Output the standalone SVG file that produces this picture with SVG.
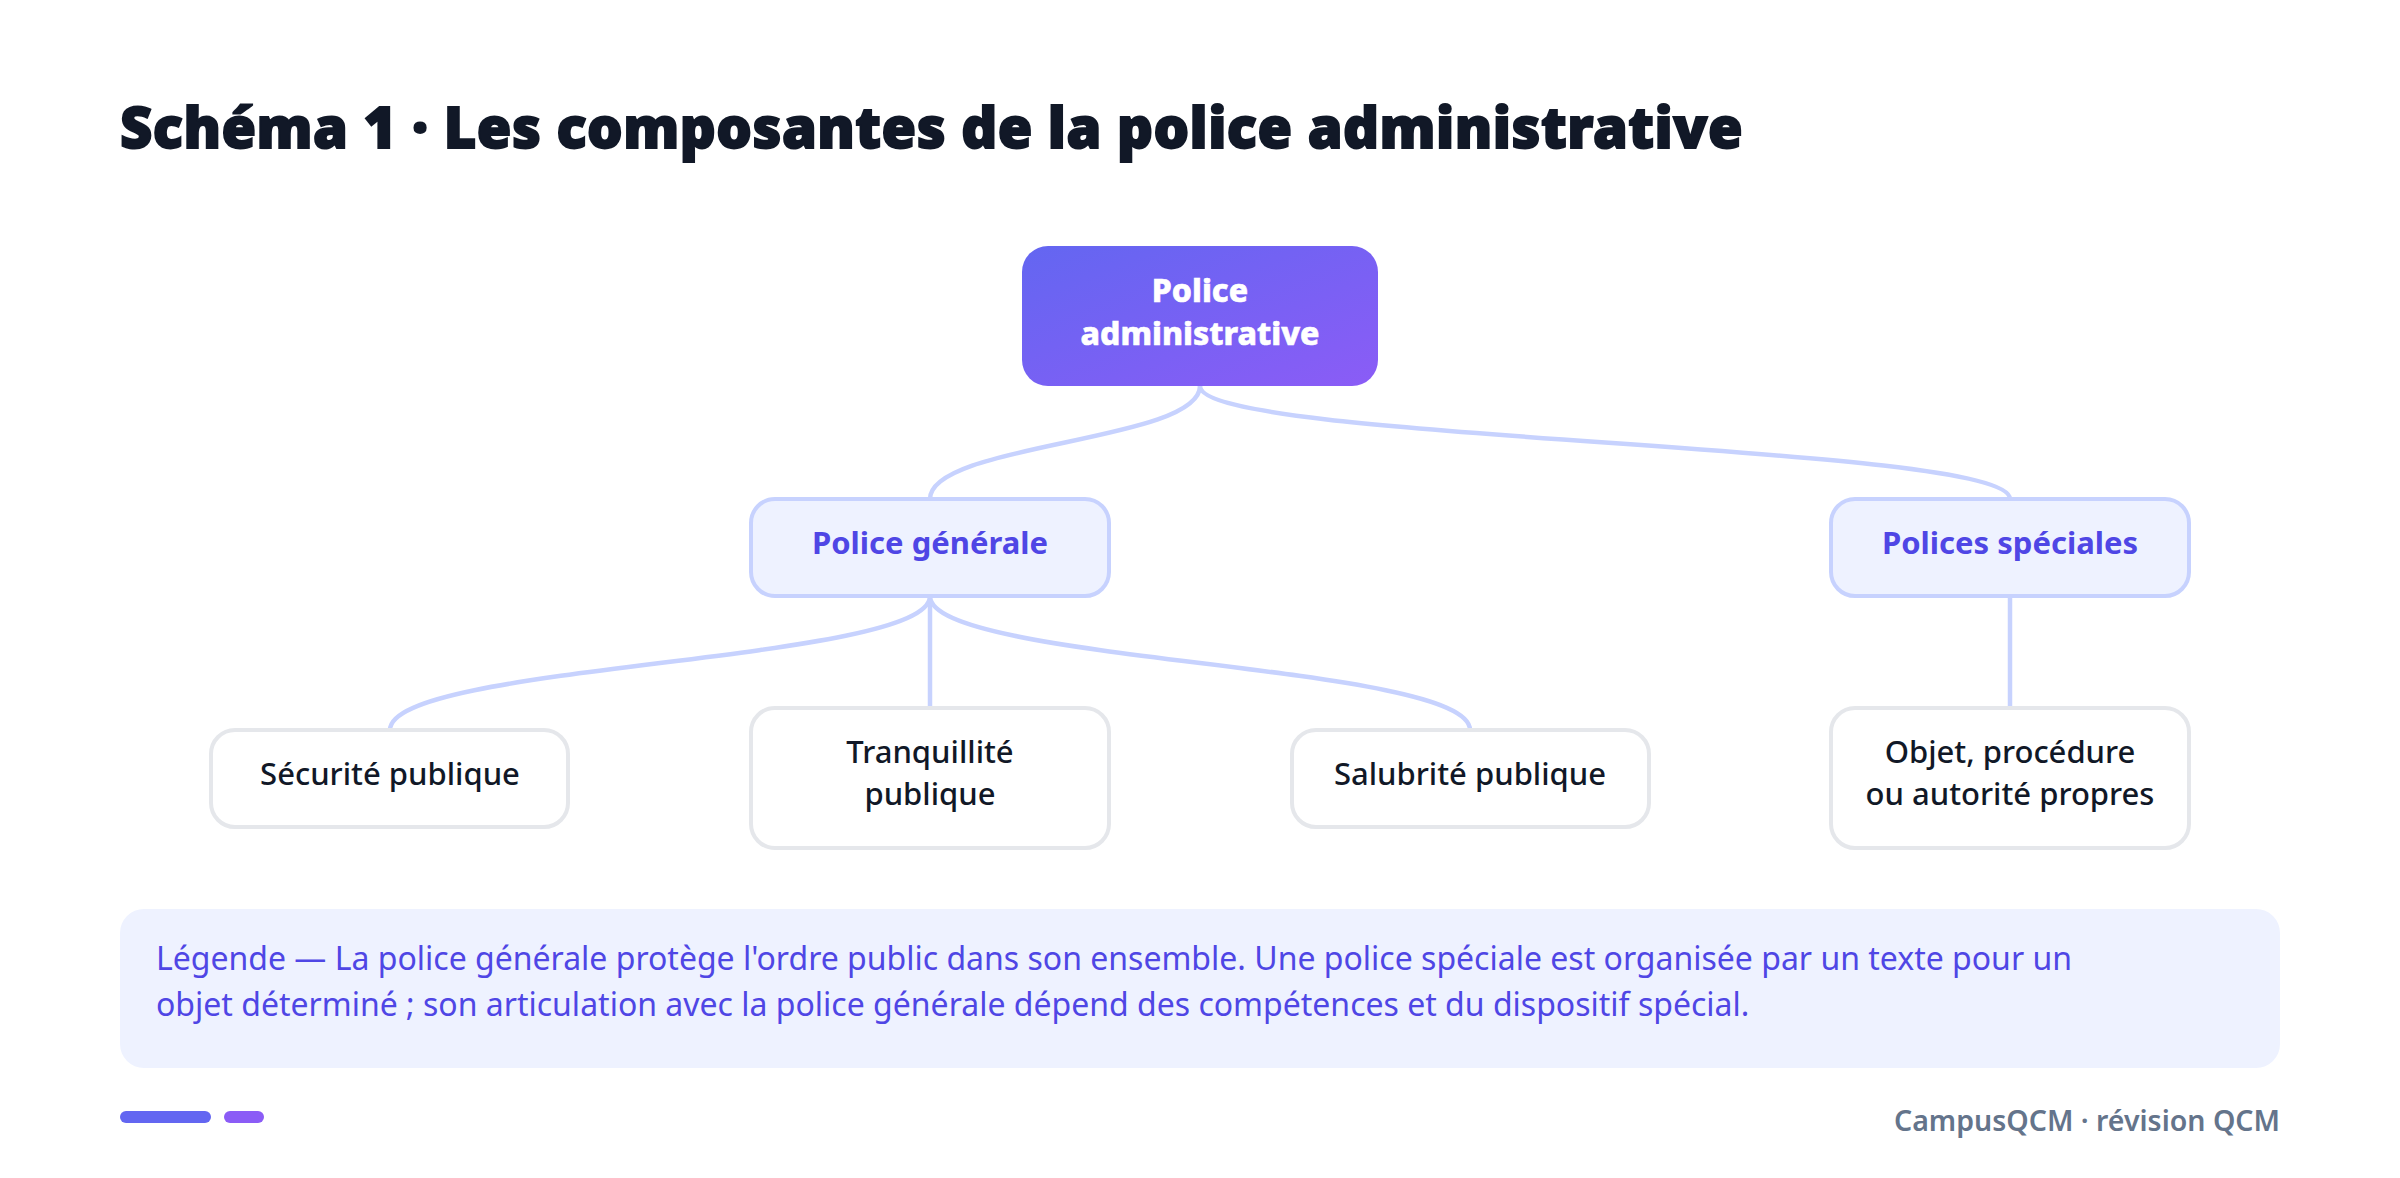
<svg xmlns="http://www.w3.org/2000/svg" width="2400" height="1178" viewBox="0 0 2400 1178">
<defs>
<linearGradient id="rootGrad" x1="0" y1="0" x2="1" y2="1">
<stop offset="0" stop-color="#6366F1"/>
<stop offset="1" stop-color="#8B5CF6"/>
</linearGradient>
<style>
.title{font-family:"Noto Sans","Open Sans",sans-serif;font-weight:900;font-size:56px;fill:#111827;stroke:#111827;stroke-width:1.8;letter-spacing:0.5px}
.rootT{font-family:"Noto Sans","Open Sans",sans-serif;font-weight:800;font-size:32px;fill:#FFFFFF;stroke:#FFFFFF;stroke-width:0.6;text-anchor:middle}
.midBox{fill:#EEF2FF;stroke:#C7D2FE;stroke-width:4}
.midT{font-family:"Noto Sans","Open Sans",sans-serif;font-weight:700;font-size:31px;fill:#4F46E5;text-anchor:middle}
.leafBox{fill:#FFFFFF;stroke:#E5E7EB;stroke-width:4}
.leafT{font-family:"Noto Sans","Open Sans",sans-serif;font-weight:500;font-size:31px;fill:#111827;text-anchor:middle}
.conn{fill:none;stroke:#C7D2FE;stroke-width:4.5;stroke-linecap:round}
.legT{font-family:"Noto Sans","Open Sans",sans-serif;font-size:32px;fill:#4F46E5}
.foot{font-family:"Noto Sans","Open Sans",sans-serif;font-weight:600;font-size:28.5px;fill:#64748B;text-anchor:end}
</style>
</defs>
<rect width="2400" height="1178" fill="#FFFFFF"/>
<text class="title" x="120" y="148">Schéma 1 · Les composantes de la police administrative</text>

<g id="connectors">
<path class="conn" d="M1200 386 C1200 442 930 443 930 499"/>
<path class="conn" d="M1200 386 C1200 442 2010 443 2010 499"/>
<path class="conn" d="M930 596 C930 663 390 663 390 730"/>
<path class="conn" d="M930 596 L930 708"/>
<path class="conn" d="M930 596 C930 663 1470 663 1470 730"/>
<path class="conn" d="M2010 596 L2010 708"/>
</g>

<g id="node-root">
<rect x="1022" y="246" width="356" height="140" rx="26" fill="url(#rootGrad)"/>
<text class="rootT" x="1200" y="302">Police</text>
<text class="rootT" x="1200" y="345">administrative</text>
</g>
<g id="node-generale">
<rect class="midBox" x="751" y="499" width="358" height="97" rx="24"/>
<text class="midT" x="930" y="554">Police générale</text>
</g>
<g id="node-speciales">
<rect class="midBox" x="1831" y="499" width="358" height="97" rx="24"/>
<text class="midT" x="2010" y="554">Polices spéciales</text>
</g>
<g id="node-securite">
<rect class="leafBox" x="211" y="730" width="357" height="97" rx="24"/>
<text class="leafT" x="390" y="785">Sécurité publique</text>
</g>
<g id="node-tranquillite">
<rect class="leafBox" x="751" y="708" width="358" height="140" rx="24"/>
<text class="leafT" x="930" y="763">Tranquillité</text>
<text class="leafT" x="930" y="805">publique</text>
</g>
<g id="node-salubrite">
<rect class="leafBox" x="1292" y="730" width="357" height="97" rx="24"/>
<text class="leafT" x="1470" y="785">Salubrité publique</text>
</g>
<g id="node-objet">
<rect class="leafBox" x="1831" y="708" width="358" height="140" rx="24"/>
<text class="leafT" x="2010" y="763">Objet, procédure</text>
<text class="leafT" x="2010" y="805">ou autorité propres</text>
</g>

<g id="legend">
<rect x="120" y="909" width="2160" height="159" rx="24" fill="#EEF2FF"/>
<text class="legT" x="156" y="970">Légende — La police générale protège l'ordre public dans son ensemble. Une police spéciale est organisée par un texte pour un</text>
<text class="legT" x="156" y="1016">objet déterminé ; son articulation avec la police générale dépend des compétences et du dispositif spécial.</text>
</g>

<g id="footer">
<rect x="120" y="1111" width="91" height="12" rx="6" fill="#6366F1"/>
<rect x="224" y="1111" width="40" height="12" rx="6" fill="#8B5CF6"/>
<text class="foot" x="2280" y="1131">CampusQCM · révision QCM</text>
</g>
</svg>
